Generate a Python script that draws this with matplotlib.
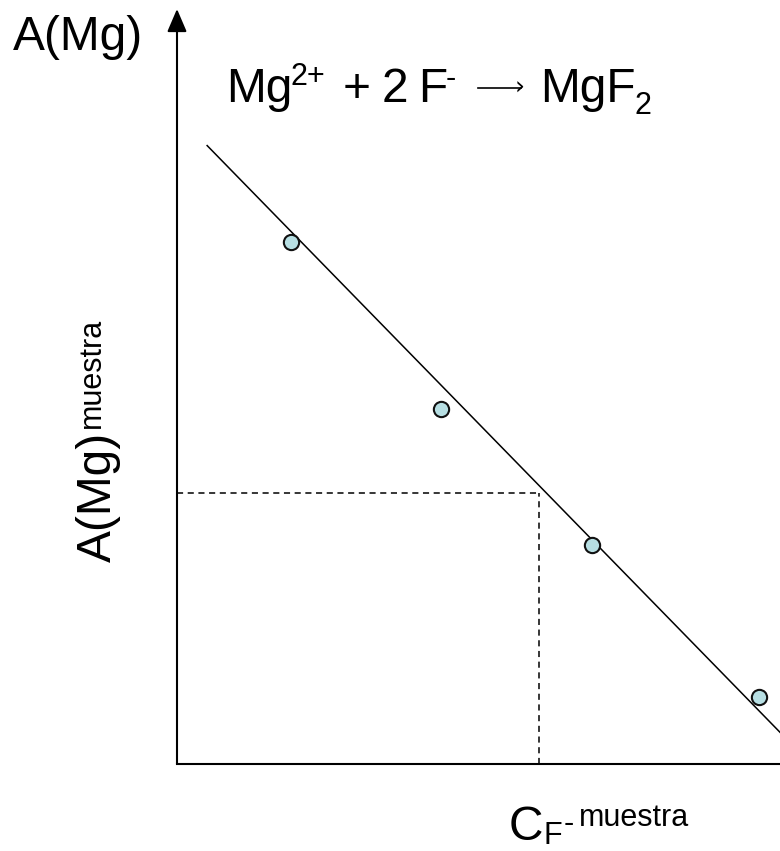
import matplotlib.pyplot as plt
import numpy as np

plt.rcParams['font.family'] = ['Liberation Sans', 'DejaVu Sans']

# sample points (standard additions)
conc = [1.89, 4.38, 6.88, 9.65]
absorb = [6.91, 4.70, 2.90, 0.89]

# calibration line
slope = -0.818
intercept = 8.60
line_x = [0.5, 10.5]

# sample reading
sample_x = 6.0
sample_y = 3.59

W, H = 780, 851
fig = plt.figure(figsize=(W / 100, H / 100), dpi=100)
ax = fig.add_axes([177 / W, (H - 764) / H, 603 / W, 755 / H])
ax.set_xlim(0, 10)
ax.set_ylim(0, 10)
ax.axis('off')

# axes: x line and y arrow
ax.plot([0, 10], [0, 0], color='black', lw=1.5, clip_on=False)
ax.annotate('', xy=(0, 10), xytext=(0, 0),
            arrowprops=dict(arrowstyle='-|>,head_length=0.7,head_width=0.3',
                            lw=1.5, color='black', mutation_scale=20,
                            shrinkA=0, shrinkB=0),
            annotation_clip=False)

lx = np.array(line_x)
ax.plot(lx, intercept + slope * lx, color='black', lw=1.1)

ax.plot(conc, absorb, 'o', ms=11, mfc='#b7dfe3', mec='#111111', mew=1.5,
        clip_on=False, zorder=3)

ax.plot([0, sample_x], [sample_y, sample_y], color='black', lw=1.1, ls=(0, (4, 3)))
ax.plot([sample_x, sample_x], [0, sample_y], color='black', lw=1.1, ls=(0, (4, 3)))


def put(x, y, s, size, **kw):
    # x, y in pixels from the top-left corner; y is the baseline
    return fig.text(x / W, 1 - y / H, s, fontsize=size, va='baseline', ha='left', **kw)


big = 34.5
small = 22

# corner label
put(13, 50, 'A(Mg)', big)

# reaction
put(226, 102, 'Mg', big)
put(291, 85, '2+', small)
put(343, 102, '+', big)
put(382, 102, '2', big)
put(418, 102, 'F', big)
put(446, 87, '-', small)
fig.add_artist(plt.Line2D([478 / W, 521 / W], [1 - 88 / H, 1 - 88 / H],
                          color='black', lw=1.2))
fig.text(525 / W, 1 - 88 / H, '\u203a', fontsize=18, ha='right', va='center',
         family='DejaVu Sans')
put(540, 102, 'MgF', big)
put(634, 114, '2', small)

# y label (rotated)
put(111, 562, 'A(Mg)', big, rotation=90, rotation_mode='anchor')
put(100, 428, 'muestra', small, rotation=90, rotation_mode='anchor')

# x label
put(509, 840, 'C', big)
put(544, 844, 'F', small)
put(564, 832, '-', small)
put(579, 826, 'muestra', small)

fig.savefig('out.png', dpi=100)
